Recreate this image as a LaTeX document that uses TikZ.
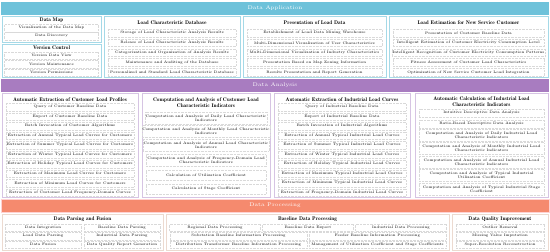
\documentclass[tikz,border=0pt]{standalone}
\usepackage{tikz}
\usetikzlibrary{positioning}
\definecolor{appblue}{RGB}{110,194,218}
\definecolor{appline}{RGB}{165,217,231}
\definecolor{anapurple}{RGB}{168,124,192}
\definecolor{analine}{RGB}{214,196,227}
\definecolor{procorange}{RGB}{245,138,110}
\definecolor{procline}{RGB}{236,218,208}

\begin{document}
\begin{tikzpicture}[
        x=1pt, y=-1pt,
        every node/.style={font=\fontsize{3.6}{4.3}\selectfont, inner sep=0.5pt},
        head/.style={rectangle, minimum width=548pt, minimum height=13pt, text=white, font=\fontsize{5.3}{6}\selectfont},
        grp/.style={rectangle, draw, line width=0.7pt, fill=white},
        ttl/.style={font=\fontseries{b}\fontsize{5.3}{6.3}\selectfont, align=center},
        cell/.style={rectangle, draw=gray!30, densely dotted, minimum height=7.5pt, align=center},
        tall/.style={cell, minimum height=12pt}
    ]
    \useasboundingbox (0,0) rectangle (550,252);
%
    % Data Application
    \node[head, fill=appblue] (apphead) at (275,8.5) {Data Application};
    \node[grp, draw=appline, minimum width=99pt, minimum height=26pt] (mapbox) at (51.5,29) {};
    \node[ttl] (mapttl) at (51.5,20.5) {Data Map};
    \node[cell, minimum width=94pt] (map1) at (51.5,28) {Visualization of the Data Map};
    \node[cell, minimum width=94pt] (map2) at (51.5,36) {Data Discovery};
    \node[grp, draw=appline, minimum width=99pt, minimum height=33pt] (vcbox) at (51.5,60.5) {};
    \node[ttl] (vcttl) at (51.5,48) {Version Control};
    \node[cell, minimum width=94pt] (vc1) at (51.5,55.5) {Version Data View};
    \node[cell, minimum width=94pt] (vc2) at (51.5,64) {Version Maintenance};
    \node[cell, minimum width=94pt] (vc3) at (51.5,72.5) {Version Permissions};
%
    \node[grp, draw=appline, minimum width=136pt, minimum height=61pt] (lcdbox) at (172,46.5) {};
    \node[ttl] (lcdttl) at (172,23) {Load Characteristic Database};
    \node[cell, minimum width=128pt] (lcd1) at (172,33) {Storage of Load Characteristic Analysis Results};
    \node[cell, minimum width=128pt] (lcd2) at (172,42.8) {Release of Load Characteristic Analysis Results};
    \node[cell, minimum width=128pt] (lcd3) at (172,52.6) {Categorization and Organization of Analysis Results};
    \node[cell, minimum width=128pt] (lcd4) at (172,62.4) {Maintenance and Auditing of the Database};
    \node[cell, minimum width=128pt] (lcd5) at (172,72.2) {Personalized and Standard Load Characteristic Database};
%
    \node[grp, draw=appline, minimum width=143pt, minimum height=61pt] (presbox) at (314.5,46.5) {};
    \node[ttl] (presttl) at (314.5,23) {Presentation of Load Data};
    \node[cell, minimum width=135pt] (pres1) at (314.5,33) {Establishment of Load Data Mining Warehouse};
    \node[cell, minimum width=135pt] (pres2) at (314.5,42.8) {Multi-Dimensional Visualization of User Characteristics};
    \node[cell, minimum width=135pt] (pres3) at (314.5,52.6) {Multi-Dimensional Visualization of Industry Characteristics};
    \node[cell, minimum width=135pt] (pres4) at (314.5,62.4) {Presentation Based on Map Zoning Information};
    \node[cell, minimum width=135pt] (pres5) at (314.5,72.2) {Results Presentation and Report Generation};
%
    \node[grp, draw=appline, minimum width=159pt, minimum height=61pt] (estbox) at (468.5,46.5) {};
    \node[ttl] (estttl) at (468.5,23) {Load Estimation for New Service Customer};
    \node[cell, minimum width=151pt] (est1) at (468.5,33) {Presentation of Customer Baseline Data};
    \node[cell, minimum width=151pt] (est2) at (468.5,42.8) {Intelligent Estimation of Customer Electricity Consumption Level};
    \node[cell, minimum width=151pt] (est3) at (468.5,52.6) {Intelligent Recognition of Customer Electricity Consumption Patterns};
    \node[cell, minimum width=151pt] (est4) at (468.5,62.4) {Fitness Assessment of Customer Load Characteristics};
    \node[cell, minimum width=151pt] (est5) at (468.5,72.2) {Optimization of New Service Customer Load Integration};
%
    % Data Analysis
    \node[head, fill=anapurple] (anahead) at (275,85.5) {Data Analysis};
    \node[grp, draw=analine, minimum width=136pt, minimum height=104pt] (cprofbox) at (70,145) {};
    \node[ttl] (cprofttl) at (70,99.5) {Automatic Extraction of Customer Load Profiles};
    \node[cell, minimum width=128pt] (cprof1) at (70,107) {Query of Customer Baseline Data};
    \node[cell, minimum width=128pt] (cprof2) at (70,116.5) {Export of Customer Baseline Data};
    \node[cell, minimum width=128pt] (cprof3) at (70,126) {Batch Invocation of Customer Algorithms};
    \node[cell, minimum width=128pt] (cprof4) at (70,135.5) {Extraction of Annual Typical Load Curves for Customers};
    \node[cell, minimum width=128pt] (cprof5) at (70,145) {Extraction of Summer Typical Load Curves for Customers};
    \node[cell, minimum width=128pt] (cprof6) at (70,154.5) {Extraction of Winter Typical Load Curves for Customers};
    \node[cell, minimum width=128pt] (cprof7) at (70,164) {Extraction of Holiday Typical Load Curves for Customers};
    \node[cell, minimum width=128pt] (cprof8) at (70,173.5) {Extraction of Maximum Load Curves for Customers};
    \node[cell, minimum width=128pt] (cprof9) at (70,183) {Extraction of Minimum Load Curves for Customers};
    \node[cell, minimum width=128pt] (cprof10) at (70,192.5) {Extraction of Customer Load Frequency-Domain Curves};
%
    \node[grp, draw=analine, minimum width=128pt, minimum height=104pt] (cindbox) at (206,145) {};
    \node[ttl] (cindttl) at (206,102.5) {Computation and Analysis of Customer Load\\Characteristic Indicators};
    \node[tall, minimum width=120pt] (cind1) at (206,118) {Computation and Analysis of Daily Load Characteristic\\Indicators};
    \node[tall, minimum width=120pt] (cind2) at (206,131.5) {Computation and Analysis of Monthly Load Characteristic\\Indicators};
    \node[tall, minimum width=120pt] (cind3) at (206,145) {Computation and Analysis of Annual Load Characteristic\\Indicators};
    \node[tall, minimum width=120pt] (cind4) at (206,160.5) {Computation and Analysis of Frequency-Domain Load\\Characteristic Indicators};
    \node[cell, minimum width=120pt, minimum height=10pt] (cind5) at (206,175) {Calculation of Utilization Coefficient};
    \node[cell, minimum width=120pt, minimum height=10pt] (cind6) at (206,189) {Calculation of Stage Coefficient};
%
    \node[grp, draw=analine, minimum width=136pt, minimum height=104pt] (iprofbox) at (342,145) {};
    \node[ttl] (iprofttl) at (342,99.5) {Automatic Extraction of Industrial Load Curves};
    \node[cell, minimum width=128pt] (iprof1) at (342,107) {Query of Industrial Baseline Data};
    \node[cell, minimum width=128pt] (iprof2) at (342,116.5) {Export of Industrial Baseline Data};
    \node[cell, minimum width=128pt] (iprof3) at (342,126) {Batch Invocation of Industrial Algorithms};
    \node[cell, minimum width=128pt] (iprof4) at (342,135.5) {Extraction of Annual Typical Industrial Load Curves};
    \node[cell, minimum width=128pt] (iprof5) at (342,145) {Extraction of Summer Typical Industrial Load Curves};
    \node[cell, minimum width=128pt] (iprof6) at (342,154.5) {Extraction of Winter Typical Industrial Load Curves};
    \node[cell, minimum width=128pt] (iprof7) at (342,164) {Extraction of Holiday Typical Industrial Load Curves};
    \node[cell, minimum width=128pt] (iprof8) at (342,173.5) {Extraction of Maximum Typical Industrial Load Curves};
    \node[cell, minimum width=128pt] (iprof9) at (342,183) {Extraction of Minimum Typical Industrial Load Curves};
    \node[cell, minimum width=128pt] (iprof10) at (342,192.5) {Extraction of Frequency-Domain Industrial Load Curves};
%
    \node[grp, draw=analine, minimum width=133pt, minimum height=104pt] (iindbox) at (481.5,145) {};
    \node[ttl] (iindttl) at (481.5,102) {Automatic Calculation of Industrial Load\\Characteristic Indicators};
    \node[cell, minimum width=125pt, minimum height=8.5pt] (iind1) at (481.5,113) {Intuitive Descriptive Data Analysis};
    \node[cell, minimum width=125pt, minimum height=8.5pt] (iind2) at (481.5,124) {Ratio-Based Descriptive Data Analysis};
    \node[tall, minimum width=125pt] (iind3) at (481.5,135) {Computation and Analysis of Daily Industrial Load\\Characteristic Indicators};
    \node[tall, minimum width=125pt] (iind4) at (481.5,148.5) {Computation and Analysis of Monthly Industrial Load\\Characteristic Indicators};
    \node[tall, minimum width=125pt] (iind5) at (481.5,162) {Computation and Analysis of Annual Industrial Load\\Characteristic Indicators};
    \node[tall, minimum width=125pt] (iind6) at (481.5,175.5) {Computation and Analysis of Typical Industrial\\Utilization Coefficient};
    \node[tall, minimum width=125pt] (iind7) at (481.5,189.5) {Computation and Analysis of Typical Industrial Stage\\Coefficient};
%
    % Data Processing
    \node[head, fill=procorange, draw=pink!70, line width=0.4pt] (prochead) at (275,205.5) {Data Processing};
    \node[grp, draw=procline, minimum width=161pt, minimum height=36pt] (parsebox) at (82.5,232) {};
    \node[ttl] (parsettl) at (82.5,219) {Data Parsing and Fusion};
    \node[cell, minimum width=76pt] (parse1) at (43,227.5) {Data Integration};
    \node[cell, minimum width=76pt] (parse2) at (122,227.5) {Baseline Data Parsing};
    \node[cell, minimum width=76pt] (parse3) at (43,236) {Load Data Parsing};
    \node[cell, minimum width=76pt] (parse4) at (122,236) {Industrial Data Parsing};
    \node[cell, minimum width=76pt] (parse5) at (43,244.5) {Data Fusion};
    \node[cell, minimum width=76pt] (parse6) at (122,244.5) {Data Quality Report Generation};
%
    \node[grp, draw=procline, minimum width=283pt, minimum height=36pt] (basebox) at (307.5,232) {};
    \node[ttl] (basettl) at (307.5,219) {Baseline Data Processing};
    \node[cell, minimum width=91pt] (base1) at (215,227.5) {Regional Data Processing};
    \node[cell, minimum width=91pt] (base2) at (308,227.5) {Baseline Data Export};
    \node[cell, minimum width=91pt] (base3) at (401,227.5) {Industrial Data Processing};
    \node[cell, minimum width=137pt] (base4) at (238.5,236) {Substation Baseline Information Processing};
    \node[cell, minimum width=137pt] (base5) at (377.5,236) {Feeder Baseline Information Processing};
    \node[cell, minimum width=137pt] (base6) at (238.5,244.5) {Distribution Transformer Baseline Information Processing};
    \node[cell, minimum width=137pt] (base7) at (377.5,244.5) {Management of Utilization Coefficient and Stage Coefficients};
%
    \node[grp, draw=procline, minimum width=96pt, minimum height=36pt] (qualbox) at (500,232) {};
    \node[ttl] (qualttl) at (500,219) {Data Quality Improvement};
    \node[cell, minimum width=88pt] (qual1) at (500,227.5) {Outlier Removal};
    \node[cell, minimum width=88pt] (qual2) at (500,236) {Missing Value Imputation};
    \node[cell, minimum width=88pt] (qual3) at (500,244.5) {Super-Resolution Reconstruction};
%
\end{tikzpicture}
\end{document}
